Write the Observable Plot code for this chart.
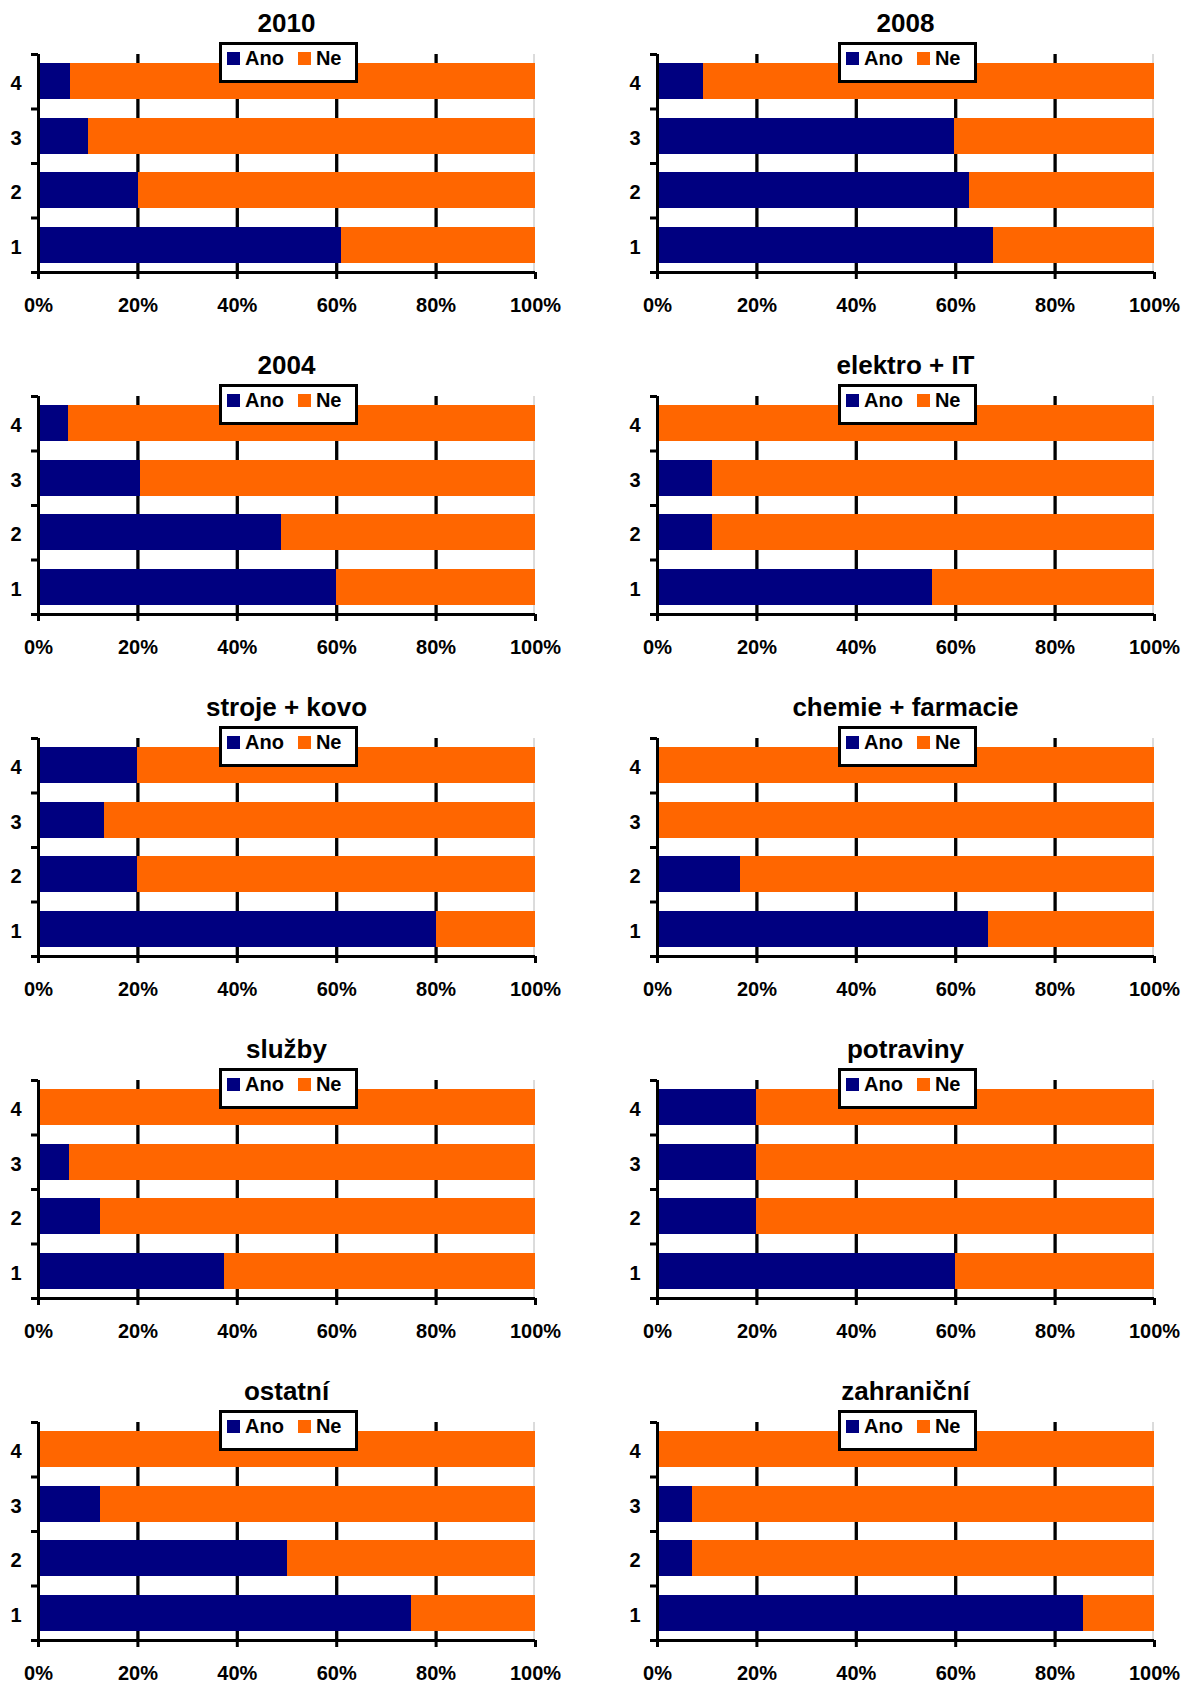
<!DOCTYPE html>
<html>
<head>
<meta charset="utf-8">
<script src="https://cdn.jsdelivr.net/npm/d3@7"></script>
<script src="https://cdn.jsdelivr.net/npm/@observablehq/plot@0.6"></script>
<style>
  html, body { margin: 0; padding: 0; background: white; }
  body { width: 1185px; height: 1684px; overflow: hidden; position: relative; font-family: "Liberation Sans", Arial, sans-serif; }
  .panel { position: absolute; width: 567px; height: 342px; }
  .panel svg { position: absolute; left: 0; top: 0; }
  .title { position: absolute; left: 38px; width: 497px; top: 9px; text-align: center; font-size: 26px; font-weight: bold; line-height: 28px; color: black; white-space: nowrap; }
  .legend { position: absolute; left: 219px; top: 42px; width: 139px; height: 41px; box-sizing: border-box; border: 3px solid black; background: white; display: flex; align-items: flex-start; padding: 3px 0 0 5px; }
  .legend .item { display: flex; align-items: flex-start; font-size: 20px; font-weight: bold; line-height: 20px; color: black; }
  .legend .sw { width: 13px; height: 13px; margin: 4px 5px 0 0; display: inline-block; }
  .legend .item + .item { margin-left: 14px; }
</style>
</head>
<body>
<script>
// ---- data ----
const panelTitles = ["2010", "2008", "2004", "elektro + IT", "stroje + kovo", "chemie + farmacie", "služby", "potraviny", "ostatní", "zahraniční"];
const categories = [1, 2, 3, 4];
const categoryLabels = ["1", "2", "3", "4"];
const seriesNames = ["Ano", "Ne"];
const xTicks = [0, 20, 40, 60, 80, 100];
const xTickLabels = ["0%", "20%", "40%", "60%", "80%", "100%"];
// share of "Ano" (%) for categories 1..4
const ano2010 = [61, 20.1, 10, 6.5];
const ano2008 = [67.7, 62.7, 59.8, 9.2];
const ano2004 = [60, 48.9, 20.6, 6];
const anoElektro = [55.4, 11, 11, 0];
const anoStroje = [80, 20, 13.3, 20];
const anoChemie = [66.5, 16.8, 0, 0];
const anoSluzby = [37.5, 12.5, 6.3, 0];
const anoPotraviny = [60, 20, 20, 20];
const anoOstatni = [75, 50, 12.5, 0];
const anoZahranicni = [85.7, 7.1, 7.1, 0];
const anoSeries = [ano2010, ano2008, ano2004, anoElektro, anoStroje, anoChemie, anoSluzby, anoPotraviny, anoOstatni, anoZahranicni];

// ---- style ----
const colors = ["#000080", "#FF6600"];
const fontFamily = '"Liberation Sans", Arial, sans-serif';

function makePanel(title, ano, left, top) {
  const rows = [];
  categories.forEach((c, i) => {
    rows.push({cat: c, answer: seriesNames[0], x1: 0, x2: ano[i]});
    rows.push({cat: c, answer: seriesNames[1], x1: ano[i], x2: 100});
  });
  const half = 0.33;
  const chart = Plot.plot({
    width: 567, height: 342,
    marginLeft: 38, marginRight: 32, marginTop: 54, marginBottom: 70,
    style: {fontFamily, fontSize: "20px", fontWeight: "bold", color: "black", background: "transparent", overflow: "visible"},
    x: {domain: [0, 100]},
    y: {domain: [0.5, 4.5]},
    color: {domain: seriesNames, range: colors},
    marks: [
      Plot.ruleX([20, 40, 60, 80], {stroke: "black", strokeWidth: 3.3}),
      Plot.ruleX([100], {stroke: "#b8b8b8", strokeWidth: 1, dx: -1.5}),
      Plot.rect(rows, {x1: "x1", x2: "x2", y1: d => d.cat - half, y2: d => d.cat + half, fill: "answer", shapeRendering: "crispEdges"}),
      Plot.ruleX([0], {stroke: "black", strokeWidth: 3}),
      Plot.ruleY([0.5], {stroke: "black", strokeWidth: 3}),
      Plot.axisY({ticks: [0.5, 1.5, 2.5, 3.5, 4.5], tickSize: 7, tickFormat: () => "", strokeWidth: 3, label: null}),
      Plot.axisY({ticks: categories, tickSize: 0, tickPadding: 17, tickFormat: d => categoryLabels[categories.indexOf(d)], fontSize: 20, fontWeight: "bold", dy: 2, label: null}),
      Plot.axisX({ticks: xTicks, tickSize: 7, tickPadding: 18, strokeWidth: 3, tickFormat: d => xTickLabels[xTicks.indexOf(d)], fontSize: 20, fontWeight: "bold", label: null})
    ]
  });
  const div = document.createElement("div");
  div.className = "panel";
  div.style.left = left + "px";
  div.style.top = top + "px";
  div.appendChild(chart);
  const t = document.createElement("div");
  t.className = "title";
  t.textContent = title;
  div.appendChild(t);
  const lg = document.createElement("div");
  lg.className = "legend";
  seriesNames.forEach((name, i) => {
    const it = document.createElement("div");
    it.className = "item";
    const sw = document.createElement("span");
    sw.className = "sw";
    sw.style.background = colors[i];
    it.appendChild(sw);
    it.appendChild(document.createTextNode(name));
    lg.appendChild(it);
  });
  div.appendChild(lg);
  document.body.appendChild(div);
}

const colLeft = [0, 619];
const rowStep = 342;
panelTitles.forEach((title, i) => {
  const col = i % 2, row = Math.floor(i / 2);
  makePanel(title, anoSeries[i], colLeft[col], row * rowStep);
});
</script>
</body>
</html>
